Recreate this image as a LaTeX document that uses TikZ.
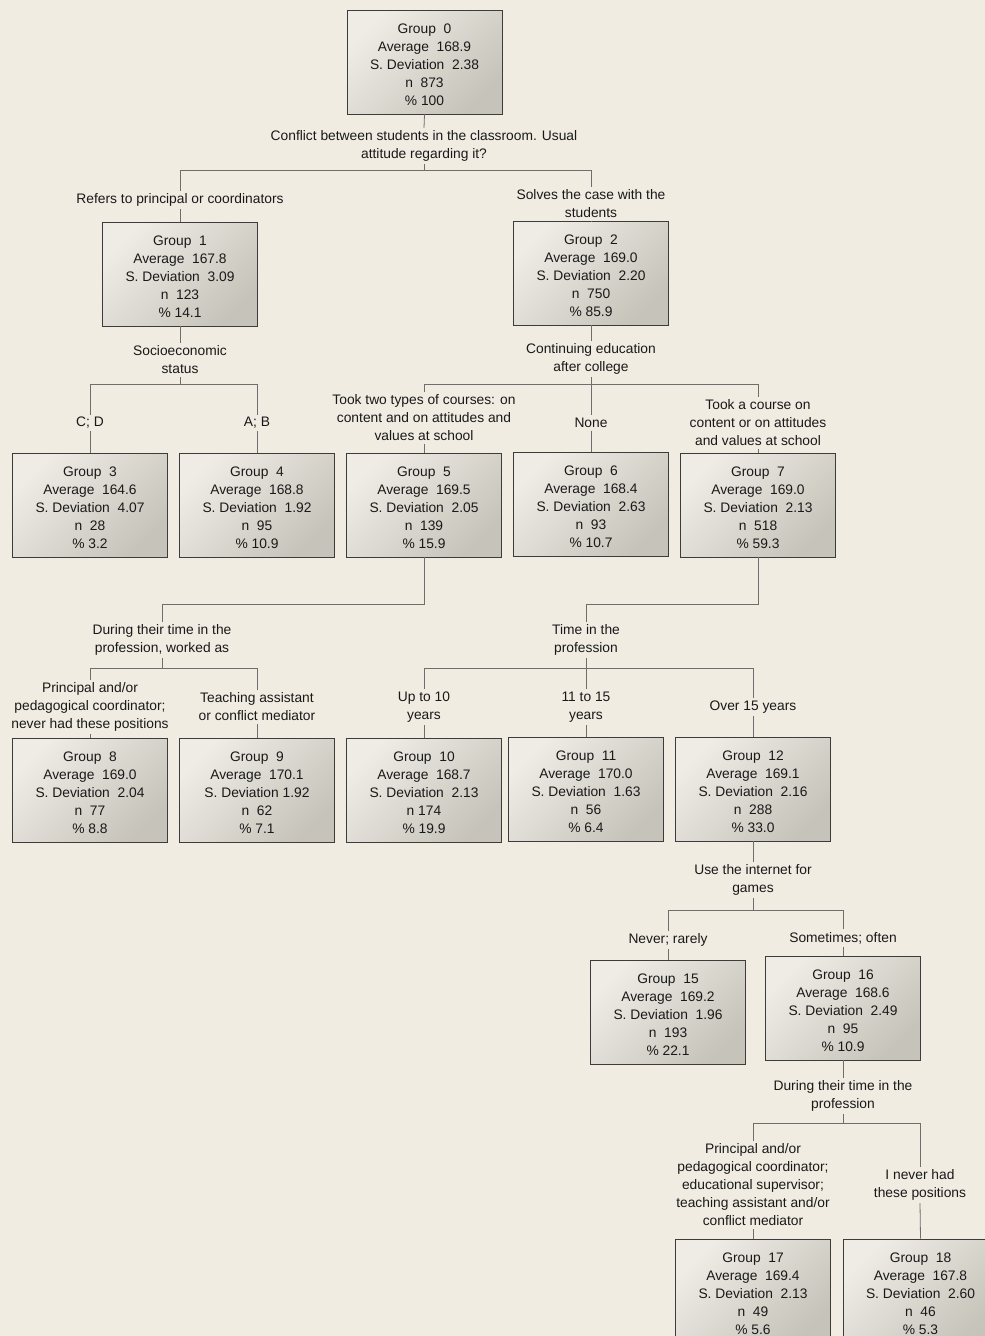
\documentclass[tikz,border=0pt]{standalone}
\usepackage{fontspec}
\setmainfont{Liberation Sans}
\definecolor{bg}{RGB}{240,236,226}
\definecolor{boxlight}{RGB}{238,236,229}
\definecolor{boxdark}{RGB}{198,195,186}
\definecolor{boxline}{RGB}{60,60,60}
\definecolor{conncol}{RGB}{110,110,110}
\definecolor{txt}{RGB}{25,25,25}
\newcommand{\tstr}{\rule{0pt}{14.8pt}}
\begin{document}
\begin{tikzpicture}[x=1pt,y=-1pt,
  grp/.style={draw=boxline, line width=0.9pt, top color=boxlight, bottom color=boxdark, shading angle=45,
    minimum width=155pt, minimum height=104pt, inner sep=0pt, align=center, text=txt,
    font=\fontsize{13.8}{18}\selectfont},
  lbl/.style={align=center, inner sep=2.5pt, text=txt, font=\fontsize{13.8}{18}\selectfont},
  conn/.style={draw=conncol, line width=0.8pt}]
\fill[bg] (0,0) rectangle (985,1336);
\clip (0,0) rectangle (985,1336);
% boxes
\node[grp] (g0) at (424.5,62) {\tstr Group~ 0\\Average~ 168.9\\S. Deviation~ 2.38\\n~ 873\\\% 100};
\node[grp] (g1) at (180,274) {\tstr Group~ 1\\Average~ 167.8\\S. Deviation~ 3.09\\n~ 123\\\% 14.1};
\node[grp] (g2) at (591,273) {\tstr Group~ 2\\Average~ 169.0\\S. Deviation~ 2.20\\n~ 750\\\% 85.9};
\node[grp] (g3) at (90,505) {\tstr Group~ 3\\Average~ 164.6\\S. Deviation~ 4.07\\n~ 28\\\% 3.2};
\node[grp] (g4) at (257,505) {\tstr Group~ 4\\Average~ 168.8\\S. Deviation~ 1.92\\n~ 95\\\% 10.9};
\node[grp] (g5) at (424,505) {\tstr Group~ 5\\Average~ 169.5\\S. Deviation~ 2.05\\n~ 139\\\% 15.9};
\node[grp] (g6) at (591,504) {\tstr Group~ 6\\Average~ 168.4\\S. Deviation~ 2.63\\n~ 93\\\% 10.7};
\node[grp] (g7) at (758,505) {\tstr Group~ 7\\Average~ 169.0\\S. Deviation~ 2.13\\n~ 518\\\% 59.3};
\node[grp] (g8) at (90,790) {\tstr Group~ 8\\Average~ 169.0\\S. Deviation~ 2.04\\n~ 77\\\% 8.8};
\node[grp] (g9) at (257,790) {\tstr Group~ 9\\Average~ 170.1\\S. Deviation 1.92\\n~ 62\\\% 7.1};
\node[grp] (g10) at (424,790) {\tstr Group~ 10\\Average~ 168.7\\S. Deviation~ 2.13\\n 174\\\% 19.9};
\node[grp] (g11) at (586,789) {\tstr Group~ 11\\Average~ 170.0\\S. Deviation~ 1.63\\n~ 56\\\% 6.4};
\node[grp] (g12) at (753,789) {\tstr Group~ 12\\Average~ 169.1\\S. Deviation~ 2.16\\n~ 288\\\% 33.0};
\node[grp] (g15) at (668,1012) {\tstr Group~ 15\\Average~ 169.2\\S. Deviation~ 1.96\\n~ 193\\\% 22.1};
\node[grp] (g16) at (843,1008) {\tstr Group~ 16\\Average~ 168.6\\S. Deviation~ 2.49\\n~ 95\\\% 10.9};
\node[grp] (g17) at (753,1291) {\tstr Group~ 17\\Average~ 169.4\\S. Deviation~ 2.13\\n~ 49\\\% 5.6};
\node[grp] (g18) at (920.5,1291) {\tstr Group~ 18\\Average~ 167.8\\S. Deviation~ 2.60\\n~ 46\\\% 5.3};
% labels
\node[lbl] (q0) at (424,146) {Conflict between students in the classroom. Usual\\attitude regarding it?};
\node[lbl] (l1) at (180,200) {Refers to principal or coordinators};
\node[lbl] (l2) at (591,204) {Solves the case with the\\students};
\node[lbl] (q1) at (180,360) {Socioeconomic\\status};
\node[lbl] (q2) at (591,359) {Continuing education\\after college};
\node[lbl] (l3) at (90,423) {C; D};
\node[lbl] (l4) at (257,423) {A; B};
\node[lbl] (l5) at (424,418) {Took two types of courses: on\\content and on attitudes and\\values at school};
\node[lbl] (l6) at (591,423) {None};
\node[lbl] (l7) at (758,423) {Took a course on\\content or on attitudes\\and values at school};
\node[lbl] (q5) at (162,640) {During their time in the\\profession, worked as};
\node[lbl] (q7) at (586,640) {Time in the\\profession};
\node[lbl] (l8) at (90,707) {Principal and/or\\pedagogical coordinator;\\never had these positions};
\node[lbl] (l9) at (257,707) {Teaching assistant\\or conflict mediator};
\node[lbl] (l10) at (424,707) {Up to 10\\years};
\node[lbl] (l11) at (586,707) {11 to 15\\years};
\node[lbl] (l12) at (753,707) {Over 15 years};
\node[lbl] (q12) at (753,880) {Use the internet for\\games};
\node[lbl] (l15) at (668,940) {Never; rarely};
\node[lbl] (l16) at (843,938) {Sometimes; often};
\node[lbl] (q16) at (843,1096) {During their time in the\\profession};
\node[lbl] (l17) at (753,1185) {Principal and/or\\pedagogical coordinator;\\educational supervisor;\\teaching assistant and/or\\conflict mediator};
\node[lbl] (l18) at (920,1185) {I never had\\these positions};
% bar coordinates
\coordinate (b0) at (0,170);
\coordinate (b1) at (0,384);
\coordinate (e5) at (0,604);
\coordinate (b5) at (0,668);
\coordinate (b12) at (0,910);
\coordinate (b16) at (0,1123);
% split of group 0
\draw[conn] (g0.south) -- (q0.north);
\draw[conn] (q0.south) -- (q0.south |- b0);
\draw[conn] (l1.north) -- (l1.north |- b0) -- (l2.north |- b0) -- (l2.north);
\draw[conn] (l1.south) -- (g1.north);
\draw[conn] (l2.south) -- (g2.north);
% split of group 1
\draw[conn] (g1.south) -- (q1.north);
\draw[conn] (q1.south) -- (q1.south |- b1);
\draw[conn] (l3.north) -- (l3.north |- b1) -- (l4.north |- b1) -- (l4.north);
\draw[conn] (l3.south) -- (g3.north);
\draw[conn] (l4.south) -- (g4.north);
% split of group 2
\draw[conn] (g2.south) -- (q2.north);
\draw[conn] (q2.south) -- (q2.south |- b1);
\draw[conn] (l5.north) -- (l5.north |- b1) -- (l7.north |- b1) -- (l7.north);
\draw[conn] (l6.north |- b1) -- (l6.north);
\draw[conn] (l5.south) -- (g5.north);
\draw[conn] (l6.south) -- (g6.north);
\draw[conn] (l7.south) -- (g7.north);
% split of group 5
\draw[conn] (g5.south) -- (g5.south |- e5) -- (q5.north |- e5) -- (q5.north);
\draw[conn] (q5.south) -- (q5.south |- b5);
\draw[conn] (l8.north) -- (l8.north |- b5) -- (l9.north |- b5) -- (l9.north);
\draw[conn] (l8.south) -- (g8.north);
\draw[conn] (l9.south) -- (g9.north);
% split of group 7
\draw[conn] (g7.south) -- (g7.south |- e5) -- (q7.north |- e5) -- (q7.north);
\draw[conn] (q7.south) -- (q7.south |- b5);
\draw[conn] (l10.north) -- (l10.north |- b5) -- (l12.north |- b5) -- (l12.north);
\draw[conn] (l11.north |- b5) -- (l11.north);
\draw[conn] (l10.south) -- (g10.north);
\draw[conn] (l11.south) -- (g11.north);
\draw[conn] (l12.south) -- (g12.north);
% split of group 12
\draw[conn] (g12.south) -- (q12.north);
\draw[conn] (q12.south) -- (q12.south |- b12);
\draw[conn] (l15.north) -- (l15.north |- b12) -- (l16.north |- b12) -- (l16.north);
\draw[conn] (l15.south) -- (g15.north);
\draw[conn] (l16.south) -- (g16.north);
% split of group 16
\draw[conn] (g16.south) -- (q16.north);
\draw[conn] (q16.south) -- (q16.south |- b16);
\draw[conn] (l17.north) -- (l17.north |- b16) -- (l18.north |- b16) -- (l18.north);
\draw[conn] (l17.south) -- (g17.north);
\draw[conn] (l18.south) -- (g18.north);
\end{tikzpicture}
\end{document}
